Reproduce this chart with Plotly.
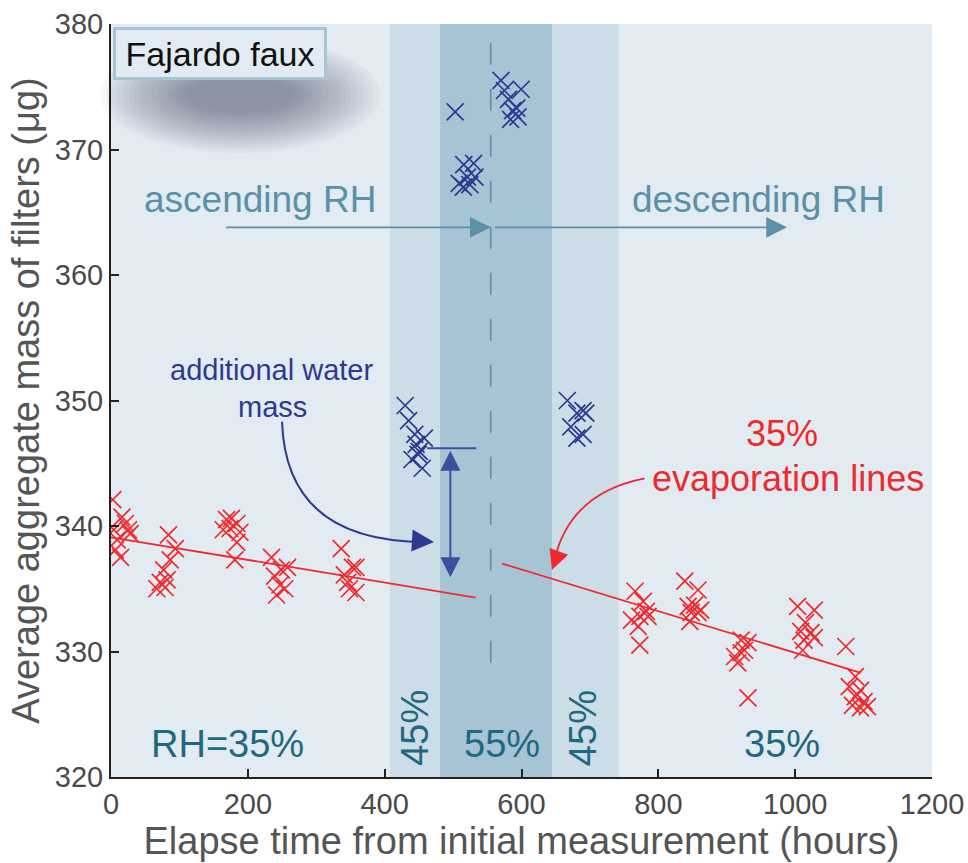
import plotly.graph_objects as go

# ---------------- data ----------------
red_x = [2.6, 16, 21, 25.5, 9, 6.5, 14, 28, 4,
         84, 94, 86.6, 77, 72, 79, 67, 82,
         169, 176, 184, 164, 174, 188.5, 184, 181,
         234.6, 249, 258, 239, 247, 242, 254,
         336.5, 353, 358, 341, 346, 358, 348.5,
         766, 778, 760.8, 773, 785, 782.5, 770.7, 773,
         838.7, 858, 843.5, 853, 862, 848, 846, 858,
         921, 931, 911.5, 921, 916, 931, 926,
         1003.6, 1028, 1015, 1008, 1023, 1013, 1028, 1011,
         1074, 1088, 1079, 1095.5, 1088, 1100.7, 1083.7, 1095.5, 1105.5]
red_y = [342.1, 340.7, 340.2, 339.7, 338.9, 338.1, 337.5, 339.4, 339.7,
         339.3, 338.2, 337.3, 336.5, 335.5, 335.1, 335.0, 335.7,
         340.5, 340.6, 340.2, 339.7, 339.8, 339.5, 338.7, 337.3,
         337.5, 336.5, 336.7, 336.0, 335.3, 334.5, 335.0,
         338.2, 336.7, 336.7, 336.1, 335.5, 334.7, 335.0,
         334.8, 334.0, 332.5, 332.8, 332.8, 333.2, 332.0, 330.5,
         335.6, 334.9, 333.6, 333.7, 333.3, 333.1, 332.4, 333.1,
         330.9, 330.7, 329.6, 329.9, 329.1, 326.3, 330.1,
         333.6, 333.3, 332.3, 331.6, 331.5, 330.9, 331.1, 330.1,
         330.4, 328.0, 327.2, 326.9, 326.4, 326.0, 325.7, 325.5, 325.6]

blue_x = [430, 435, 444, 458, 446, 450.5, 440, 455, 449,
          503,
          515.6, 530, 521, 509, 532, 524.5, 515,
          570, 575, 599.5, 581, 587, 595, 584, 593,
          667, 690, 681, 672, 694, 681, 690]
blue_y = [349.6, 348.4, 347.3, 347.0, 346.5, 345.95, 345.3, 344.6, 345.7,
          373.0,
          368.8, 368.9, 367.8, 367.3, 367.8, 367.2, 367.0,
          375.5, 374.7, 374.8, 374.0, 373.1, 372.6, 372.4, 373.3,
          350.0, 349.2, 349.0, 347.9, 349.0, 347.0, 347.3]

fit_left_x = [0, 533]
fit_left_y = [339.1, 334.3]
fit_right_x = [572, 1096]
fit_right_y = [337.0, 328.3]

band_45_left = [408, 481]
band_55 = [481, 645]
band_45_right = [645, 742]
rh_switch = 555

x_ticks = [0, 200, 400, 600, 800, 1000, 1200]
y_ticks = [320, 330, 340, 350, 360, 370, 380]

# ---------------- styling ----------------
RED = "#ee2a2e"
BLUE = "#2e3990"
TEAL = "#1d6a80"
ARROW = "#5b91a8"
BG = "#e2ebf1"
LIGHT = "#cddde8"
DARK = "#a7c4d5"
FONT = "Liberation Sans"

L, R, T, B = 111, 36, 24, 86
W, H = 968, 863
PW, PH = W - L - R, H - T - B


def px(xp):
    return (xp - L) / PW


def py(yp):
    return (H - B - yp) / PH


fig = go.Figure()

fig.add_trace(go.Scatter(x=fit_left_x, y=fit_left_y, mode="lines",
                         line=dict(color=RED, width=1.8), showlegend=False, hoverinfo="skip"))
fig.add_trace(go.Scatter(x=fit_right_x, y=fit_right_y, mode="lines",
                         line=dict(color=RED, width=1.8), showlegend=False, hoverinfo="skip"))
fig.add_trace(go.Scatter(x=red_x, y=red_y, mode="markers", showlegend=False,
                         marker=dict(symbol="x-thin", size=17, line=dict(color=RED, width=1.7))))
fig.add_trace(go.Scatter(x=blue_x, y=blue_y, mode="markers", showlegend=False,
                         marker=dict(symbol="x-thin", size=17, line=dict(color=BLUE, width=1.7))))

shapes = []
# RH bands
for (a, b), c in [(band_45_left, LIGHT), (band_55, DARK), (band_45_right, LIGHT)]:
    shapes.append(dict(type="rect", xref="x", yref="paper", x0=a, x1=b, y0=0, y1=1,
                       fillcolor=c, line=dict(width=0), layer="below"))
# soft shadow under title box (nested ellipses)
n = 16
for i in range(n):
    f = i / (n - 1)
    cx, cy = 240, 95
    rx = 140 - f * 85
    ry = 58 - f * 40
    shapes.append(dict(type="circle", xref="paper", yref="paper",
                       x0=px(cx - rx), x1=px(cx + rx), y0=py(cy + ry), y1=py(cy - ry),
                       fillcolor="rgba(45,45,50,0.032)", line=dict(width=0), layer="below"))
# dashed RH switch line
shapes.append(dict(type="line", xref="x", yref="y", x0=rh_switch, x1=rh_switch, y0=329.1, y1=380,
                   line=dict(color=ARROW, width=1.6, dash="22px,24px")))
# cap line for water mass arrow
shapes.append(dict(type="line", xref="x", yref="y", x0=462, x1=534, y0=346.2, y1=346.2,
                   line=dict(color="#3a4fa0", width=2)))
# curved blue arrow
shapes.append(dict(type="path", xref="x", yref="y",
                   path="M 250,348.3 Q 256,338.6 466,338.73",
                   line=dict(color=BLUE, width=2)))
# curved red arrow
shapes.append(dict(type="path", xref="x", yref="y",
                   path="M 780,343.8 Q 668,342.6 647,337.0",
                   line=dict(color=RED, width=1.8)))

ann = []
# title box
ann.append(dict(xref="paper", yref="paper", x=px(113), y=py(27), xanchor="left", yanchor="top",
                text="Fajardo faux", showarrow=False,
                font=dict(family=FONT, size=34, color="#111111"),
                bgcolor=BG, bordercolor="#a8c5d3", borderwidth=3, borderpad=3,
                width=202, height=41))
# ascending / descending RH
ann.append(dict(x=218, y=366.0, text="ascending RH", showarrow=False,
                font=dict(family=FONT, size=37, color=ARROW)))
ann.append(dict(x=947, y=366.0, text="descending RH", showarrow=False,
                font=dict(family=FONT, size=37, color=ARROW)))
ann.append(dict(x=rh_switch, y=363.8, ax=166, ay=363.8, axref="x", ayref="y", text="",
                showarrow=True, arrowhead=2, arrowsize=2.3, arrowwidth=1.8, arrowcolor=ARROW))
ann.append(dict(x=988, y=363.8, ax=559, ay=363.8, axref="x", ayref="y", text="",
                showarrow=True, arrowhead=2, arrowsize=2.3, arrowwidth=1.8, arrowcolor=ARROW))
# additional water mass
ann.append(dict(x=234, y=352.4, text="additional water", showarrow=False,
                font=dict(family=FONT, size=29, color=BLUE)))
ann.append(dict(x=236, y=349.5, text="mass", showarrow=False,
                font=dict(family=FONT, size=29, color=BLUE)))
ann.append(dict(x=472, y=338.73, ax=-16, ay=-1, text="", showarrow=True,
                arrowhead=2, arrowsize=2.2, arrowwidth=2, arrowcolor=BLUE))
ann.append(dict(x=496, y=346.0, ax=496, ay=335.8, axref="x", ayref="y", text="",
                showarrow=True, arrowhead=2, arrowside="end+start", arrowsize=2.0,
                arrowwidth=2, arrowcolor="#3a4fa0"))
# evaporation lines label
ann.append(dict(x=981, y=347.4, text="35%", showarrow=False,
                font=dict(family=FONT, size=36, color=RED)))
ann.append(dict(x=990, y=343.8, text="evaporation lines", showarrow=False,
                font=dict(family=FONT, size=36, color=RED)))
ann.append(dict(x=644.5, y=336.5, ax=6, ay=-16, text="", showarrow=True,
                arrowhead=2, arrowsize=2.2, arrowwidth=1.8, arrowcolor=RED))
# RH labels at the bottom
for xv, yv, t, ang in [(171, 322.6, "RH=35%", 0), (571, 322.6, "55%", 0),
                       (981, 322.6, "35%", 0), (444, 323.9, "45%", -90),
                       (690, 323.9, "45%", -90)]:
    ann.append(dict(x=xv, y=yv, text=t, showarrow=False, textangle=ang,
                    font=dict(family=FONT, size=38, color=TEAL)))

fig.update_layout(
    width=W, height=H,
    margin=dict(l=L, r=R, t=T, b=B),
    paper_bgcolor="white", plot_bgcolor=BG,
    shapes=shapes, annotations=ann,
    font=dict(family=FONT),
    showlegend=False,
)
fig.update_xaxes(range=[0, 1200], tickvals=x_ticks, showgrid=False, zeroline=False,
                 showline=True, linecolor="#222222", linewidth=2,
                 ticks="inside", ticklen=8, tickwidth=2, tickcolor="#222222",
                 tickfont=dict(family=FONT, size=29, color="#4a4a4a"),
                 title=dict(text="Elapse time from initial measurement (hours)",
                            font=dict(family=FONT, size=38, color="#555555"), standoff=4),
                 automargin=False)
fig.update_yaxes(range=[320, 380], tickvals=y_ticks, showgrid=False, zeroline=False,
                 showline=True, linecolor="#222222", linewidth=2,
                 ticks="inside", ticklen=8, tickwidth=2, tickcolor="#222222",
                 tickfont=dict(family=FONT, size=29, color="#4a4a4a"),
                 title=dict(text="Average aggregate mass of filters (μg)",
                            font=dict(family=FONT, size=38, color="#555555"), standoff=4),
                 automargin=False)

fig.write_html("out.html")
